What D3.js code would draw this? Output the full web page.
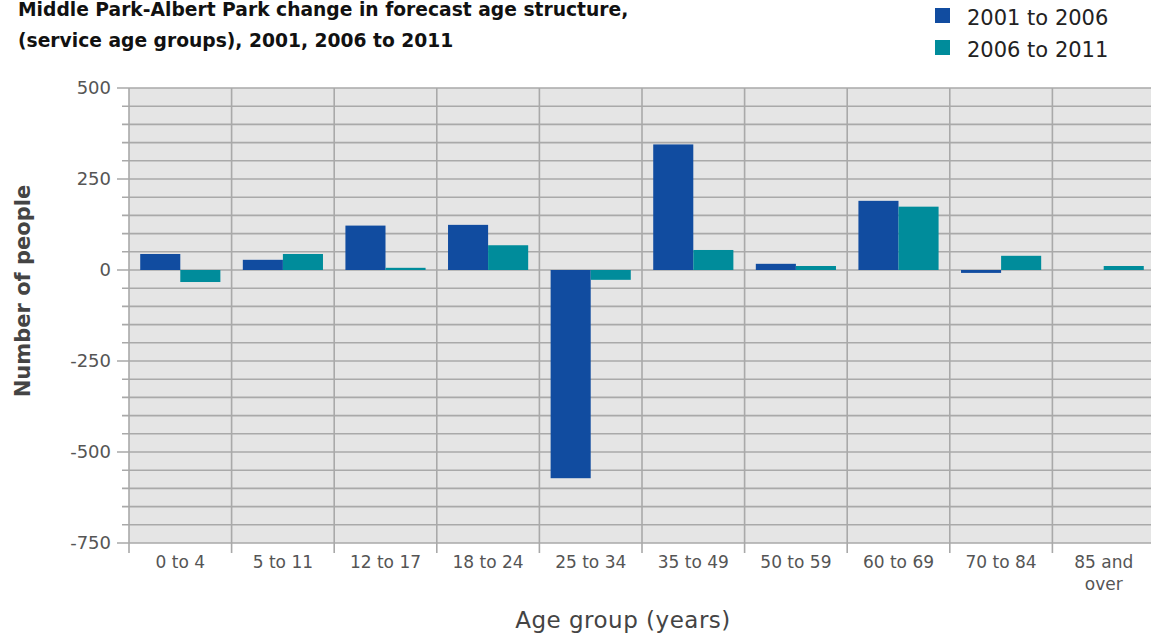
<!DOCTYPE html>
<html>
<head>
<meta charset="utf-8">
<script src="https://cdn.jsdelivr.net/npm/d3@7"></script>
<style>
  body { margin: 0; background: #fff; }
  svg { display: block; }
  text { font-family: "DejaVu Sans", Verdana, sans-serif; }
</style>
</head>
<body>
<svg id="viz" width="1151" height="639"></svg>
<script>
var ageGroups = ["0 to 4", "5 to 11", "12 to 17", "18 to 24", "25 to 34", "35 to 49", "50 to 59", "60 to 69", "70 to 84", "85 and over"];
var seriesNames = ["2001 to 2006", "2006 to 2011"];
var change0106 = [44, 28, 122, 124, -572, 345, 17, 190, -8, 0];
var change0611 = [-33, 44, 6, 68, -27, 55, 11, 174, 39, 11];
var yTicks = [500, 250, 0, -250, -500, -750];
var colors = ["#114ca0", "#008c9b"];

var plot = {left: 129, right: 1155, top: 88, bottom: 543};

var svg = d3.select("#viz");

var yScale = d3.scaleLinear().domain([-750, 500]).range([plot.bottom, plot.top]);
var x0 = d3.scaleBand().domain(ageGroups).range([plot.left, plot.right]).padding(0);
var x1 = d3.scaleBand().domain(seriesNames).range([0, x0.bandwidth()]).paddingInner(0).paddingOuter(0.28);

// plot background
svg.append("rect")
  .attr("x", plot.left).attr("y", plot.top)
  .attr("width", plot.right - plot.left).attr("height", plot.bottom - plot.top)
  .attr("fill", "#e5e5e5");

// horizontal grid every 50
var minor = d3.range(-750, 501, 50);
svg.append("g").selectAll("line").data(minor).join("line")
  .attr("x1", function(d){ return yTicks.indexOf(d) >= 0 ? plot.left - 12 : plot.left - 7; })
  .attr("x2", plot.right)
  .attr("y1", function(d){ return yScale(d); })
  .attr("y2", function(d){ return yScale(d); })
  .attr("stroke", "#a9a9a9").attr("stroke-width", 1.6);

// vertical grid at category edges
var edges = ageGroups.map(function(d){ return x0(d); });
svg.append("g").selectAll("line").data(edges).join("line")
  .attr("x1", function(d){ return d; }).attr("x2", function(d){ return d; })
  .attr("y1", plot.top).attr("y2", plot.bottom + 10)
  .attr("stroke", "#a9a9a9").attr("stroke-width", 1.6);

// y tick labels
svg.append("g").selectAll("text").data(yTicks).join("text")
  .attr("x", plot.left - 18)
  .attr("y", function(d){ return yScale(d); })
  .attr("dy", "0.36em")
  .attr("text-anchor", "end")
  .attr("fill", "#555")
  .style("font-size", "18px")
  .text(function(d){ return d; });

// bars
var rows = ageGroups.map(function(g, i){
  return {group: g, vals: [{s: seriesNames[0], v: change0106[i]}, {s: seriesNames[1], v: change0611[i]}]};
});
var groups = svg.append("g").selectAll("g").data(rows).join("g")
  .attr("transform", function(d){ return "translate(" + x0(d.group) + ",0)"; });
groups.selectAll("rect").data(function(d){ return d.vals.filter(function(e){ return e.v !== 0; }); }).join("rect")
  .attr("x", function(d){ return x1(d.s); })
  .attr("width", x1.bandwidth())
  .attr("y", function(d){ return yScale(Math.max(0, d.v)); })
  .attr("height", function(d){ return Math.abs(yScale(d.v) - yScale(0)); })
  .attr("fill", function(d){ return colors[seriesNames.indexOf(d.s)]; });

// x tick labels
var xl = svg.append("g").selectAll("text").data(ageGroups).join("text")
  .attr("x", function(d){ return x0(d) + x0.bandwidth() / 2; })
  .attr("y", 568)
  .attr("text-anchor", "middle")
  .attr("fill", "#555")
  .style("font-size", "17px");
xl.each(function(d){
  var t = d3.select(this);
  var parts = d === "85 and over" ? ["85 and", "over"] : [d];
  parts.forEach(function(p, i){
    t.append("tspan").attr("x", x0(d) + x0.bandwidth() / 2).attr("dy", i === 0 ? 0 : 22).text(p);
  });
});

// axis titles
svg.append("text")
  .attr("x", 623).attr("y", 628)
  .attr("text-anchor", "middle")
  .attr("fill", "#444")
  .style("font-size", "23px")
  .style("letter-spacing", "0.5px")
  .text("Age group (years)");

svg.append("text")
  .attr("transform", "translate(30,291) rotate(-90)")
  .attr("text-anchor", "middle")
  .attr("fill", "#444")
  .style("font-size", "21px")
  .style("font-weight", "bold")
  .text("Number of people");

// title
var title = svg.append("text").attr("x", 18).attr("y", 16)
  .attr("fill", "#111").style("font-size", "18.7px").style("font-weight", "bold");
title.append("tspan").attr("x", 18).text("Middle Park-Albert Park change in forecast age structure,");
title.append("tspan").attr("x", 18).attr("dy", 31).text("(service age groups), 2001, 2006 to 2011");

// legend
var legend = svg.append("g").selectAll("g").data(seriesNames).join("g")
  .attr("transform", function(d, i){ return "translate(935," + (8 + i * 32) + ")"; });
legend.append("rect").attr("width", 15).attr("height", 15)
  .attr("fill", function(d, i){ return colors[i]; });
legend.append("text").attr("x", 32).attr("y", 17)
  .attr("fill", "#222").style("font-size", "21px")
  .text(function(d){ return d; });
</script>
</body>
</html>
